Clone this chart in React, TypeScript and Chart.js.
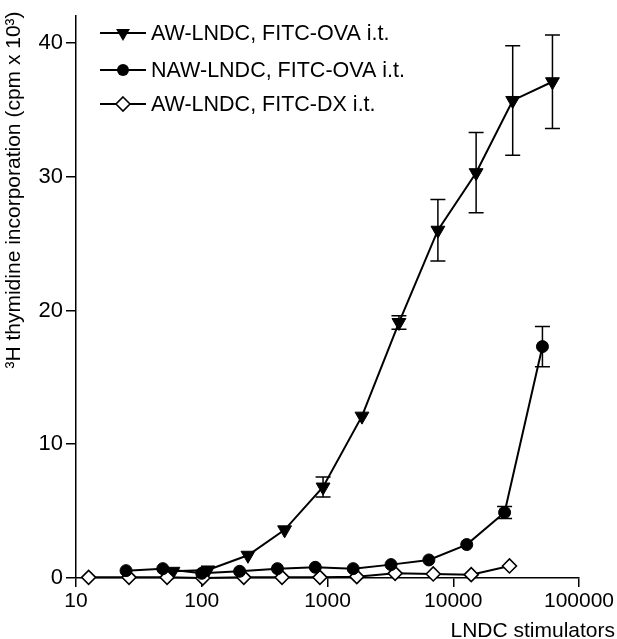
import React, { useEffect, useRef } from 'react';
import { Chart, registerables } from 'chart.js';
Chart.register(...registerables);

const xTicks = [10, 100, 1000, 10000, 100000];
const yTicks = [0, 10, 20, 30, 40];

const seriesLabels = ['AW-LNDC, FITC-OVA i.t.', 'NAW-LNDC, FITC-OVA i.t.', 'AW-LNDC, FITC-DX i.t.'];

const awOvaX = [59, 112, 233, 456, 922, 1880, 3700, 7550, 15200, 29700, 61500];
const awOvaY = [0.5, 0.6, 1.7, 3.6, 6.8, 12.1, 19.1, 26.0, 30.3, 35.7, 37.1];
const awOvaErr = [0, 0, 0, 0, 0.75, 0, 0.5, 2.3, 3.0, 4.1, 3.5];

const nawOvaX = [25, 49, 100, 200, 400, 800, 1600, 3200, 6400, 12800, 25600, 51200];
const nawOvaY = [0.55, 0.7, 0.35, 0.5, 0.7, 0.8, 0.7, 1.0, 1.35, 2.5, 4.9, 17.3];
const nawOvaErr = [0, 0, 0, 0, 0, 0, 0, 0, 0, 0, 0.45, 1.5];

const awDxX = [12.6, 26.4, 53, 102, 216, 435, 870, 1710, 3450, 6930, 13900, 28000];
const awDxY = [0.05, 0.05, 0.05, 0, 0.05, 0.05, 0.05, 0.1, 0.35, 0.3, 0.25, 0.9];
const awDxErr = [0, 0, 0, 0, 0, 0, 0, 0, 0, 0, 0, 0];

const yTitle = '³H thymidine incorporation (cpm x 10³)';
const xTitle = 'LNDC stimulators';

const FONT = '"Liberation Sans", Arial, Helvetica, sans-serif';

function toPts(xs: number[], ys: number[]) {
  return xs.map((x, i) => ({ x, y: ys[i] }));
}

function drawMarker(ctx: CanvasRenderingContext2D, kind: string, x: number, y: number) {
  ctx.save();
  ctx.lineWidth = 1.6;
  ctx.strokeStyle = '#000';
  ctx.beginPath();
  if (kind === 'tri') {
    const r = 8;
    ctx.moveTo(x, y + r);
    ctx.lineTo(x - r * 0.866, y - r / 2);
    ctx.lineTo(x + r * 0.866, y - r / 2);
    ctx.closePath();
    ctx.fillStyle = '#000';
    ctx.fill();
  } else if (kind === 'circle') {
    ctx.arc(x, y, 6, 0, Math.PI * 2);
    ctx.fillStyle = '#000';
    ctx.fill();
  } else {
    const r = 7;
    ctx.moveTo(x, y - r);
    ctx.lineTo(x + r, y);
    ctx.lineTo(x, y + r);
    ctx.lineTo(x - r, y);
    ctx.closePath();
    ctx.fillStyle = '#fff';
    ctx.fill();
    ctx.stroke();
  }
  ctx.restore();
}

const errs = [awOvaErr, nawOvaErr, awDxErr];

const errorBarPlugin = {
  id: 'errorBars',
  beforeDatasetsDraw(chart: any) {
    const ctx = chart.ctx;
    const yScale = chart.scales.y;
    ctx.save();
    ctx.strokeStyle = '#000';
    ctx.lineWidth = 1.5;
    chart.data.datasets.forEach((ds: any, di: number) => {
      const meta = chart.getDatasetMeta(di);
      const e = errs[di];
      meta.data.forEach((pt: any, i: number) => {
        if (!e[i]) return;
        const v = ds.data[i].y;
        const yt = yScale.getPixelForValue(v + e[i]);
        const yb = yScale.getPixelForValue(v - e[i]);
        const x = pt.x;
        ctx.beginPath();
        ctx.moveTo(x, yt);
        ctx.lineTo(x, yb);
        ctx.moveTo(x - 7.5, yt);
        ctx.lineTo(x + 7.5, yt);
        ctx.moveTo(x - 7.5, yb);
        ctx.lineTo(x + 7.5, yb);
        ctx.stroke();
      });
    });
    ctx.restore();
  },
};

const decorPlugin = {
  id: 'decor',
  afterDraw(chart: any) {
    const ctx = chart.ctx;
    ctx.save();
    ctx.fillStyle = '#000';
    const rows = [33, 70, 104];
    const kinds = ['tri', 'circle', 'diamond'];
    ctx.font = `21.5px ${FONT}`;
    ctx.textBaseline = 'middle';
    ctx.textAlign = 'left';
    rows.forEach((ry, i) => {
      ctx.strokeStyle = '#000';
      ctx.lineWidth = 2;
      ctx.beginPath();
      ctx.moveTo(100, ry);
      ctx.lineTo(146, ry);
      ctx.stroke();
      drawMarker(ctx, kinds[i], 123, ry);
      ctx.fillStyle = '#000';
      ctx.fillText(seriesLabels[i], 151, ry + 1);
    });
    ctx.save();
    ctx.translate(20, 190);
    ctx.rotate(-Math.PI / 2);
    ctx.textAlign = 'center';
    ctx.textBaseline = 'alphabetic';
    ctx.font = `21px ${FONT}`;
    ctx.fillText(yTitle, 0, 0);
    ctx.restore();
    ctx.textAlign = 'right';
    ctx.textBaseline = 'alphabetic';
    ctx.font = `21px ${FONT}`;
    ctx.fillText(xTitle, 615, 637);
    ctx.restore();
  },
};

export default function App() {
  const ref = useRef<HTMLCanvasElement | null>(null);
  useEffect(() => {
    if (!ref.current) return;
    const chart = new Chart(ref.current, {
      type: 'line',
      data: {
        datasets: [
          {
            label: seriesLabels[0],
            data: toPts(awOvaX, awOvaY),
            borderColor: '#000',
            borderWidth: 2,
            backgroundColor: '#000',
            pointStyle: 'triangle',
            pointRotation: 180,
            pointRadius: 8,
            pointBorderWidth: 1,
            pointBackgroundColor: '#000',
            pointBorderColor: '#000',
            tension: 0,
            clip: false,
            order: 2,
          } as any,
          {
            label: seriesLabels[1],
            data: toPts(nawOvaX, nawOvaY),
            borderColor: '#000',
            borderWidth: 2,
            backgroundColor: '#000',
            pointStyle: 'circle',
            pointRadius: 6,
            pointBorderWidth: 1,
            pointBackgroundColor: '#000',
            pointBorderColor: '#000',
            tension: 0,
            clip: false,
            order: 0,
          } as any,
          {
            label: seriesLabels[2],
            data: toPts(awDxX, awDxY),
            borderColor: '#000',
            borderWidth: 2,
            backgroundColor: '#fff',
            pointStyle: 'rectRot',
            pointRadius: 7,
            pointBorderWidth: 1.6,
            pointBackgroundColor: '#fff',
            pointBorderColor: '#000',
            tension: 0,
            clip: false,
            order: 1,
          } as any,
        ],
      },
      options: {
        animation: false,
        responsive: false,
        devicePixelRatio: 1,
        layout: { padding: { left: 0, right: 38, top: 4, bottom: 0 } },
        plugins: { legend: { display: false }, tooltip: { enabled: false } },
        scales: {
          x: {
            type: 'logarithmic',
            min: 10,
            max: 100000,
            afterBuildTicks: (s: any) => {
              s.ticks = xTicks.map((v) => ({ value: v }));
            },
            afterFit: (s: any) => {
              s.height = 61;
            },
            ticks: {
              autoSkip: false,
              maxRotation: 0,
              padding: 2,
              color: '#000',
              font: { family: FONT, size: 21 },
              callback: (v: any) => String(v),
            },
            grid: { display: true, drawOnChartArea: false, drawTicks: true, tickLength: 9, color: '#000', lineWidth: 1.5 },
            border: { display: true, color: '#000', width: 1.5 },
          },
          y: {
            type: 'linear',
            min: 0,
            max: 42,
            afterBuildTicks: (s: any) => {
              s.ticks = yTicks.map((v) => ({ value: v }));
            },
            afterFit: (s: any) => {
              s.width = 76;
            },
            ticks: {
              autoSkip: false,
              padding: 3,
              color: '#000',
              font: { family: FONT, size: 22 },
              callback: (v: any) => String(v),
            },
            grid: { display: true, drawOnChartArea: false, drawTicks: true, tickLength: 10, color: '#000', lineWidth: 1.5 },
            border: { display: true, color: '#000', width: 1.5 },
          },
        },
      } as any,
      plugins: [errorBarPlugin, decorPlugin],
    });
    return () => chart.destroy();
  }, []);
  return (
    <div style={{ position: 'absolute', left: 0, top: 0, width: 617, height: 639, background: '#fff' }}>
      <canvas ref={ref} width={617} height={639} style={{ display: 'block' }} />
    </div>
  );
}
